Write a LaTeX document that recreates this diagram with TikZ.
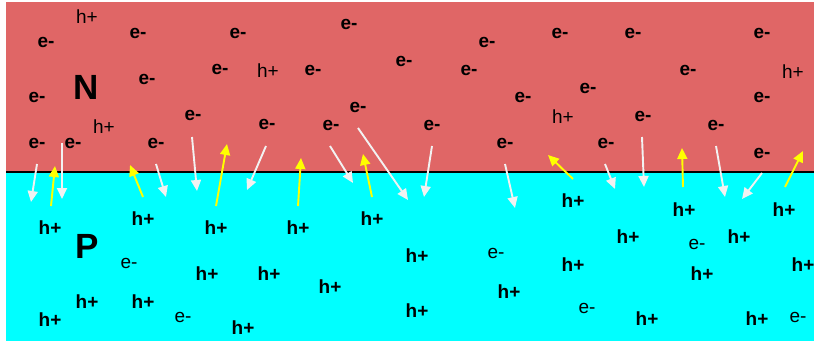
\documentclass[tikz,border=0pt]{standalone}
\usepackage{fontspec}
\setmainfont{Liberation Sans}
\usetikzlibrary{arrows.meta}
\definecolor{nred}{RGB}{224,102,102}
\definecolor{pcyan}{RGB}{0,255,255}
\definecolor{ewhite}{RGB}{242,242,242}
\definecolor{hyellow}{RGB}{255,255,0}
\tikzset{
  lab/.style={inner sep=0pt, font=\fontsize{19}{21}\selectfont},
  bl/.style={lab, font=\fontsize{19}{21}\selectfont\bfseries},
  big/.style={inner sep=0pt, font=\fontsize{35}{39}\selectfont\bfseries},
  earrow/.style={draw=ewhite, line width=1.9pt, -{Triangle[length=11pt,width=10pt]}},
  harrow/.style={draw=hyellow, line width=1.9pt, -{Triangle[length=11pt,width=10pt]}},
}
\begin{document}
\begin{tikzpicture}[x=1pt,y=-1pt]
\useasboundingbox (0,0) rectangle (816,342);
\fill[nred] (6,2) rectangle (814,172);
\fill[pcyan] (6,172) rectangle (814,341);
\draw[line width=2.2pt, black] (6,172) -- (814,172);

% N region
\node[big] (N) at (86,87) {N};
\node[lab] (nh1) at (87,17) {h+};
\node[lab] (nh2) at (268,71) {h+};
\node[lab] (nh3) at (104,127) {h+};
\node[lab] (nh4) at (563,117) {h+};
\node[lab] (nh5) at (793,72) {h+};
\node[bl] (ne1) at (46,42) {e-};
\node[bl] (ne2) at (138,33) {e-};
\node[bl] (ne3) at (238,33) {e-};
\node[bl] (ne4) at (37,97) {e-};
\node[bl] (ne5) at (147,79) {e-};
\node[bl] (ne6) at (220,69) {e-};
\node[bl] (ne7) at (193,115) {e-};
\node[bl] (ne8) at (267,124) {e-};
\node[bl] (ne9) at (37,143) {e-};
\node[bl] (ne10) at (73,143) {e-};
\node[bl] (ne11) at (156,143) {e-};
\node[bl] (ne12) at (349,24) {e-};
\node[bl] (ne13) at (313,70) {e-};
\node[bl] (ne14) at (404,61) {e-};
\node[bl] (ne15) at (487,42) {e-};
\node[bl] (ne16) at (469,70) {e-};
\node[bl] (ne17) at (523,97) {e-};
\node[bl] (ne18) at (358,107) {e-};
\node[bl] (ne19) at (331,125) {e-};
\node[bl] (ne20) at (432,125) {e-};
\node[bl] (ne21) at (505,143) {e-};
\node[bl] (ne22) at (560,33) {e-};
\node[bl] (ne23) at (633,33) {e-};
\node[bl] (ne24) at (762,33) {e-};
\node[bl] (ne25) at (688,70) {e-};
\node[bl] (ne26) at (588,88) {e-};
\node[bl] (ne27) at (762,97) {e-};
\node[bl] (ne28) at (643,116) {e-};
\node[bl] (ne29) at (716,125) {e-};
\node[bl] (ne30) at (606,143) {e-};
\node[bl] (ne31) at (762,153) {e-};

% P region
\node[big] (P) at (87,246) {P};
\node[bl] (ph1) at (50,228) {h+};
\node[bl] (ph2) at (143,219) {h+};
\node[bl] (ph3) at (216,228) {h+};
\node[bl] (ph4) at (207,274) {h+};
\node[bl] (ph5) at (269,274) {h+};
\node[bl] (ph6) at (87,302) {h+};
\node[bl] (ph7) at (143,302) {h+};
\node[bl] (ph8) at (50,320) {h+};
\node[bl] (ph9) at (243,328) {h+};
\node[bl] (ph10) at (298,228) {h+};
\node[bl] (ph11) at (372,219) {h+};
\node[bl] (ph12) at (417,256) {h+};
\node[bl] (ph13) at (330,287) {h+};
\node[bl] (ph14) at (509,292) {h+};
\node[bl] (ph15) at (417,311) {h+};
\node[bl] (ph16) at (573,201) {h+};
\node[bl] (ph17) at (684,210) {h+};
\node[bl] (ph18) at (784,210) {h+};
\node[bl] (ph19) at (628,237) {h+};
\node[bl] (ph20) at (739,237) {h+};
\node[bl] (ph21) at (573,265) {h+};
\node[bl] (ph22) at (702,274) {h+};
\node[bl] (ph23) at (803,265) {h+};
\node[bl] (ph24) at (647,319) {h+};
\node[bl] (ph25) at (757,319) {h+};
\node[lab] (pe1) at (129,263) {e-};
\node[lab] (pe2) at (183,317) {e-};
\node[lab] (pe3) at (496,253) {e-};
\node[lab] (pe4) at (697,244) {e-};
\node[lab] (pe5) at (587,308) {e-};
\node[lab] (pe6) at (798,317) {e-};

% electrons crossing into P (white)
\draw[earrow] (37,164) -- (31,202);
\draw[earrow] (62,143) -- (62,199);
\draw[earrow] (156,164) -- (166,197);
\draw[earrow] (192,137) -- (197,191);
\draw[earrow] (266,146) -- (247,190);
\draw[earrow] (330,146) -- (353,183);
\draw[earrow] (358,128) -- (408,200);
\draw[earrow] (432,146) -- (424,197);
\draw[earrow] (505,164) -- (515,208);
\draw[earrow] (605,164) -- (615,189);
\draw[earrow] (642,137) -- (644,187);
\draw[earrow] (716,146) -- (725,197);
\draw[earrow] (762,173) -- (742,199);

% holes crossing into N (yellow)
\draw[harrow] (51,206) -- (55,166);
\draw[harrow] (143,197) -- (130,165);
\draw[harrow] (216,206) -- (227,144);
\draw[harrow] (298,206) -- (301,158);
\draw[harrow] (372,197) -- (363,154);
\draw[harrow] (573,179) -- (548,155);
\draw[harrow] (683,187) -- (682,148);
\draw[harrow] (785,187) -- (803,151);
\end{tikzpicture}
\end{document}
